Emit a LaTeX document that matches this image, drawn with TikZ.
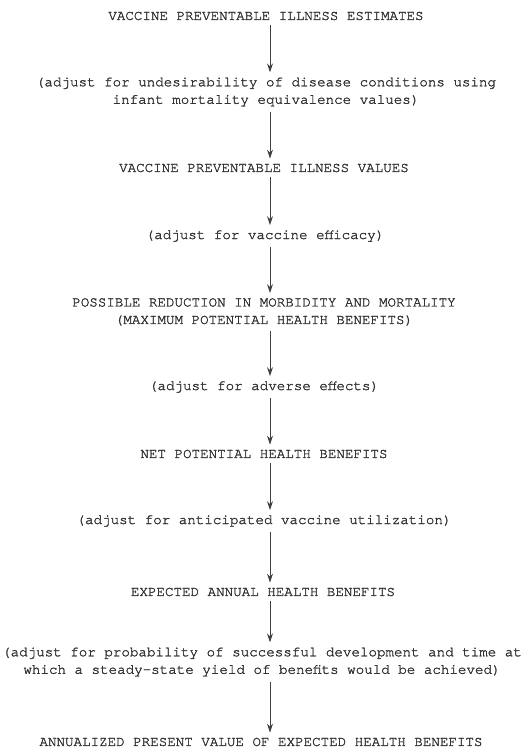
\documentclass[tikz,border=0pt]{standalone}
\usepackage{fontspec}
\setmonofont{texgyrecursor-regular.otf}[FakeBold=1.6]
\usetikzlibrary{arrows.meta}
\begin{document}
\begin{tikzpicture}[x=1pt,y=-1pt,
  stage/.style={font=\ttfamily\fontsize{14.2}{17.5}\selectfont, align=center,
                inner xsep=0pt, inner ysep=5pt, text=black!80},
  flow/.style={-{Stealth[length=9pt,width=6pt]}, line width=1pt, black!75}]
\useasboundingbox (0,0) rectangle (524,750);
\coordinate (axis) at (270,0);
\node[stage] (n1)  at (266,16)  {VACCINE PREVENTABLE ILLNESS ESTIMATES};
\node[stage] (n2)  at (266,92)  {(adjust for undesirability of disease conditions using\\infant mortality equivalence values)};
\node[stage] (n3)  at (264,168) {VACCINE PREVENTABLE ILLNESS VALUES};
\node[stage] (n4)  at (265,236) {(adjust for vaccine efficacy)};
\node[stage] (n5)  at (264,312) {POSSIBLE REDUCTION IN MORBIDITY AND MORTALITY\\(MAXIMUM POTENTIAL HEALTH BENEFITS)};
\node[stage] (n6)  at (264,387) {(adjust for adverse effects)};
\node[stage] (n7)  at (264,454) {NET POTENTIAL HEALTH BENEFITS};
\node[stage] (n8)  at (264,521) {(adjust for anticipated vaccine utilization)};
\node[stage] (n9)  at (263,592) {EXPECTED ANNUAL HEALTH BENEFITS};
\node[stage] (n10) at (262,662) {(adjust for probability of successful development and time at\\which a steady-state yield of benefits would be achieved)};
\node[stage] (n11) at (261,742) {ANNUALIZED PRESENT VALUE OF EXPECTED HEALTH BENEFITS};
\foreach \a/\b in {n1/n2, n2/n3, n3/n4, n4/n5, n5/n6, n6/n7, n7/n8, n8/n9, n9/n10, n10/n11}
  \draw[flow] (\a.south -| axis) -- (\b.north -| axis);
\end{tikzpicture}
\end{document}
